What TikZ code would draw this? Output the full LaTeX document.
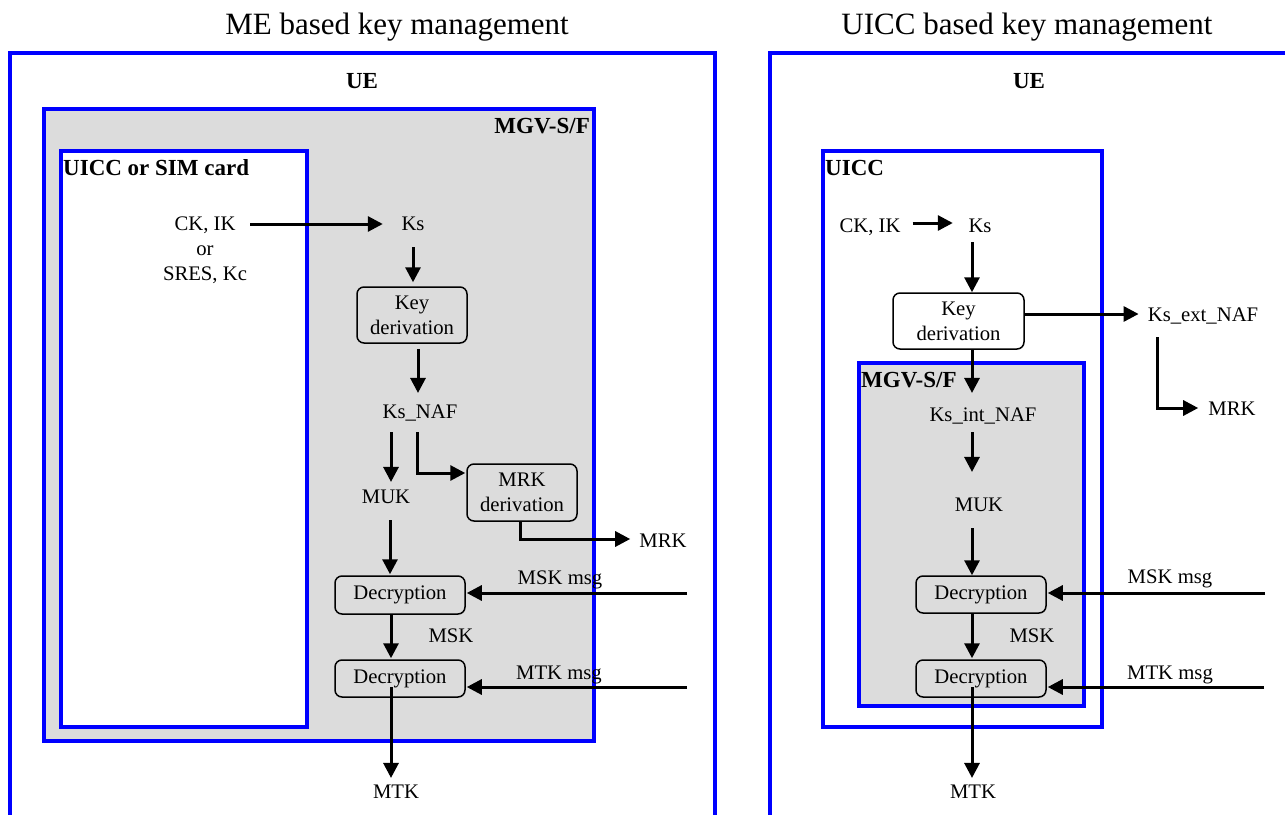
\documentclass[tikz,border=0pt]{standalone}
\usepackage{fontspec}
\setmainfont{Liberation Serif}
\usetikzlibrary{arrows.meta,calc}
\definecolor{boxgray}{RGB}{220,220,220}
\begin{document}
\begin{tikzpicture}[x=1pt,y=-1pt,
  font=\fontsize{20.7}{25}\selectfont,
  ttl/.style={font=\fontsize{31}{36}\selectfont, inner sep=0pt, anchor=base},
  bfl/.style={font=\fontsize{23}{27}\selectfont\bfseries, inner sep=0pt},
  lbl/.style={inner sep=0pt, text height=13.7pt, text depth=0pt},
  blk/.style={draw=blue, line width=3.5pt},
  proc/.style={draw, line width=1.5pt, rounded corners=7pt, align=center, inner sep=0pt},
  arr/.style={line width=3pt, -{Triangle[length=15pt,width=15pt]}},
]
\useasboundingbox (0,0) rectangle (1285,814);
\clip (0,0) rectangle (1285,814);
\fill[white] (0,0) rectangle (1285,814);

% ---------------- left panel ----------------
\node[ttl] (t1) at (397,34) {ME based key management};
\draw[blk] (10,53) rectangle (715,840);
\node[bfl, anchor=base] (ueL) at (362,88) {UE};
\draw[blk, fill=boxgray] (44,109) rectangle (594,741);
\node[bfl, anchor=base east] (mgvL) at (590,133) {MGV-S/F};
\draw[blk, fill=white] (61,151) rectangle (307,727);
\node[bfl, anchor=base west] (uiccL) at (63,175) {UICC or SIM card};

\node[inner sep=0pt, align=center, anchor=north] (ckik) at (205,217) {CK, IK\\or\\SRES, Kc};
\node[lbl] (ksL) at (413,224) {Ks};
\node[proc, fill=boxgray, minimum width=110pt, minimum height=56pt] (keyL) at (412,315) {Key\\derivation};
\node[lbl] (ksnaf) at (420,412) {Ks\_NAF};
\node[lbl] (mukL) at (386,497) {MUK};
\node[proc, fill=boxgray, minimum width=110pt, minimum height=57pt] (mrkd) at (522,492.5) {MRK\\derivation};
\node[lbl] (mrkL) at (663,541) {MRK};
\node[proc, fill=boxgray, minimum width=130pt, minimum height=38pt] (dec1L) at (400,595) {Decryption};
\node[lbl] (mskmsgL) at (560,578) {MSK msg};
\node[lbl] (mskL) at (451,636) {MSK};
\node[proc, fill=boxgray, minimum width=130pt, minimum height=37pt] (dec2L) at (400,678.5) {Decryption};
\node[lbl] (mtkmsgL) at (559,673) {MTK msg};
\node[lbl] (mtkL) at (396,792) {MTK};
\coordinate (mskinL) at (687,593);
\coordinate (mtkinL) at (687,687);

\draw[arr, shorten <=3pt, shorten >=18.5pt] (ckik.east |- ksL.center) -- (ksL.west);
\draw[arr, shorten <=16pt, shorten >=4pt] (ksL.south) -- (ksL.south |- keyL.north);
\draw[arr, shorten <=5pt, shorten >=12pt] ($(ksnaf.north |- keyL.south)+(-2,0)$) -- ($(ksnaf.north)+(-2,0)$);
\draw[arr, shorten <=13pt, shorten >=8pt] ($(ksnaf.south)+(-29,0)$) -- ($(ksnaf.south |- mukL.north)+(-29,0)$);
\draw[arr, shorten >=1pt] ($(ksnaf.south)+(-3,13)$) |- ($(mrkd.west)+(0,-19.5)$);
\draw[arr, shorten >=9pt] ($(mrkd.south)+(-2,0)$) |- ($(mrkL.west)+(0,-2)$);
\draw[arr, shorten <=16pt, shorten >=1pt] ($(mukL.south)+(4,0)$) -- ($(mukL.south |- dec1L.north)+(4,0)$);
\draw[arr, shorten >=1pt] (mskinL) -- (mskinL -| dec1L.east);
\draw[arr, shorten >=1pt] ($(dec1L.south)+(-9,0)$) -- ($(dec2L.north)+(-9,0)$);
\draw[arr, shorten >=1pt] (mtkinL) -- (mtkinL -| dec2L.east);
\draw[arr, shorten >=7pt] ($(dec2L.center)+(-9,8.5)$) -- ($(dec2L.center |- mtkL.north)+(-9,0)$);

% ---------------- right panel ----------------
\node[ttl] (t2) at (1027,34) {UICC based key management};
\draw[blk] (770,53) rectangle (1320,840);
\node[bfl, anchor=base] (ueR) at (1029,88) {UE};
\draw[blk, fill=white] (823,151) rectangle (1102,727);
\node[bfl, anchor=base west] (uiccR) at (825,175) {UICC};

\node[lbl] (ckikR) at (870,226) {CK, IK};
\node[lbl] (ksR) at (980,226) {Ks};
\node[proc, fill=white, minimum width=131pt, minimum height=56pt] (keyR) at (958.5,321) {Key\\derivation};
\node[lbl] (ksext) at (1203,315) {Ks\_ext\_NAF};
\node[lbl] (mrkR) at (1232,409) {MRK};

\draw[blk, fill=boxgray] (859,363) rectangle (1084,706);
\node[bfl, anchor=base west] (mgvR) at (861,387) {MGV-S/F};
\node[lbl] (ksint) at (983,415) {Ks\_int\_NAF};
\node[lbl] (mukR) at (979,505) {MUK};
\node[proc, fill=boxgray, minimum width=130pt, minimum height=37pt] (dec1R) at (981,594.5) {Decryption};
\node[lbl] (mskmsgR) at (1170,577) {MSK msg};
\node[lbl] (mskR) at (1032,636) {MSK};
\node[proc, fill=boxgray, minimum width=130pt, minimum height=37pt] (dec2R) at (981,678.5) {Decryption};
\node[lbl] (mtkmsgR) at (1170,673) {MTK msg};
\node[lbl] (mtkR) at (973,792) {MTK};
\coordinate (mskinR) at (1265,593);
\coordinate (mtkinR) at (1264,687);

\draw[arr, shorten <=12pt, shorten >=15.5pt] ($(ckikR.east)+(0,-3)$) -- ($(ksR.west)+(0,-3)$);
\draw[arr, shorten <=9pt] ($(ksR.south)+(-8,0)$) -- ($(ksR.south |- keyR.north)+(-8,0)$);
\draw[arr, shorten >=9pt] ($(keyR.east)+(0,-7)$) -- ($(keyR.east -| ksext.west)+(0,-7)$);
\draw[arr, shorten >=10pt] ($(ksext.south west)+(10,15)$) |- ($(mrkR.west)+(0,-1)$);
\draw[arr, shorten >=15pt] ($(ksint.north |- keyR.south)+(-11,0)$) -- ($(ksint.north)+(-11,0)$);
\draw[arr, shorten <=10pt, shorten >=26pt] ($(ksint.south)+(-11,0)$) -- ($(ksint.south |- mukR.north)+(-11,0)$);
\draw[arr, shorten <=16pt] ($(mukR.south)+(-7,0)$) -- ($(mukR.south |- dec1R.north)+(-7,0)$);
\draw[arr, shorten >=1pt] (mskinR) -- (mskinR -| dec1R.east);
\draw[arr, shorten >=1pt] ($(dec1R.south)+(-9,0)$) -- ($(dec2R.north)+(-9,0)$);
\draw[arr, shorten >=1pt] (mtkinR) -- (mtkinR -| dec2R.east);
\draw[arr, shorten >=7pt] ($(dec2R.center)+(-9,8.5)$) -- ($(dec2R.center |- mtkR.north)+(-9,0)$);
\end{tikzpicture}
\end{document}
